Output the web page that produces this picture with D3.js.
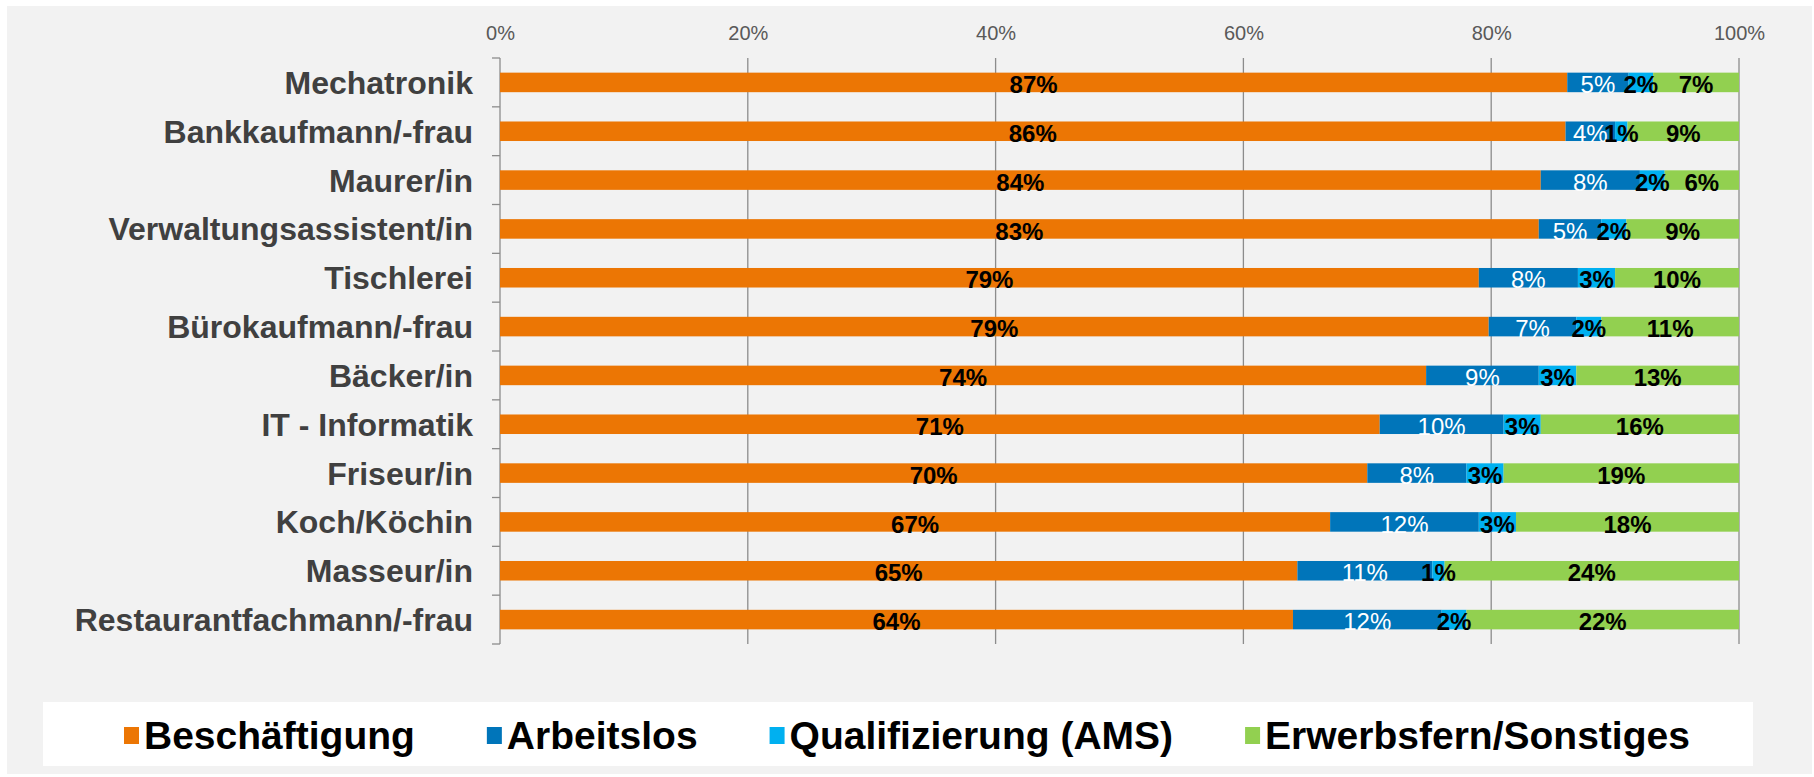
<!DOCTYPE html>
<html>
<head>
<meta charset="utf-8">
<script src="https://cdn.jsdelivr.net/npm/d3@7"></script>
<style>
  html, body { margin: 0; padding: 0; background: #ffffff; }
  svg { display: block; font-family: "Liberation Sans", Arial, sans-serif; }
</style>
</head>
<body>
<svg id="chart" width="1814" height="777"></svg>
<script>
const categories = ["Mechatronik", "Bankkaufmann/-frau", "Maurer/in", "Verwaltungsassistent/in",
  "Tischlerei", "Bürokaufmann/-frau", "Bäcker/in", "IT - Informatik", "Friseur/in",
  "Koch/Köchin", "Masseur/in", "Restaurantfachmann/-frau"];
const seriesNames = ["Beschäftigung", "Arbeitslos", "Qualifizierung (AMS)", "Erwerbsfern/Sonstiges"];
const beschaeftigung = [87, 86, 84, 83, 79, 79, 74, 71, 70, 67, 65, 64];
const arbeitslos     = [5, 4, 8, 5, 8, 7, 9, 10, 8, 12, 11, 12];
const qualifizierung = [2, 1, 2, 2, 3, 2, 3, 3, 3, 3, 1, 2];
const erwerbsfern    = [7, 9, 6, 9, 10, 11, 13, 16, 19, 18, 24, 22];
const tickValues = [0, 0.2, 0.4, 0.6, 0.8, 1.0];

const colors = ["#EC7604", "#0075BA", "#00B0F0", "#92D050"];
const labelFill = ["#000000", "#ffffff", "#000000", "#000000"];
const labelWeight = ["bold", "normal", "bold", "bold"];

const rows = categories.map((c, i) => ({
  cat: c,
  [seriesNames[0]]: beschaeftigung[i],
  [seriesNames[1]]: arbeitslos[i],
  [seriesNames[2]]: qualifizierung[i],
  [seriesNames[3]]: erwerbsfern[i]
}));

const stack = d3.stack().keys(seriesNames).offset(d3.stackOffsetExpand);
const stacked = stack(rows);

const svg = d3.select("#chart");

// background panel
svg.append("rect").attr("x", 7).attr("y", 6).attr("width", 1805).attr("height", 768).attr("fill", "#f2f2f2");

const x = d3.scaleLinear().domain([0, 1]).range([500, 1739]);
const y = d3.scaleBand().domain(categories).range([58, 644]).paddingInner(0.6).paddingOuter(0.3);

// gridlines
svg.append("g").selectAll("line").data(tickValues.filter(v => v > 0)).join("line")
  .attr("x1", d => x(d)).attr("x2", d => x(d))
  .attr("y1", 58).attr("y2", 644)
  .attr("stroke", "#8c8c8c").attr("stroke-width", 1.3);

// top axis labels
const xAxis = d3.axisTop(x).tickValues(tickValues).tickFormat(d3.format(".0%")).tickSize(0).tickPadding(0);
const gx = svg.append("g").attr("transform", "translate(0,40)").call(xAxis);
gx.select(".domain").remove();
gx.selectAll("text").attr("font-size", 20).attr("fill", "#595959")
  .attr("font-family", "'Liberation Sans', Arial, sans-serif");

// y axis line and boundary ticks
const step = y.step();
const y0 = y.range()[0];
const boundaries = d3.range(categories.length + 1).map(i => y0 + i * step);
svg.append("line").attr("x1", x(0)).attr("x2", x(0)).attr("y1", 58).attr("y2", 644)
  .attr("stroke", "#8c8c8c").attr("stroke-width", 1.3);
svg.append("g").selectAll("line").data(boundaries).join("line")
  .attr("x1", x(0) - 8).attr("x2", x(0))
  .attr("y1", d => d).attr("y2", d => d)
  .attr("stroke", "#8c8c8c").attr("stroke-width", 1.3);

// category labels
const yAxis = d3.axisLeft(y).tickSize(0).tickPadding(0);
const gy = svg.append("g").attr("transform", `translate(${x(0) - 27},0)`).call(yAxis);
gy.select(".domain").remove();
gy.selectAll("text").attr("font-size", 32).attr("font-weight", "bold").attr("fill", "#404040")
  .attr("font-family", "'Liberation Sans', Arial, sans-serif").attr("dy", "0.36em");

// bars
const layers = svg.append("g").selectAll("g").data(stacked).join("g")
  .attr("fill", (d, i) => colors[i]);
layers.selectAll("rect").data(d => d).join("rect")
  .attr("x", d => x(d[0]))
  .attr("width", d => x(d[1]) - x(d[0]))
  .attr("y", d => y(d.data.cat))
  .attr("height", y.bandwidth());

// value labels
const lbl = svg.append("g").selectAll("g").data(stacked).join("g");
lbl.each(function(layer, li) {
  d3.select(this).selectAll("text").data(layer).join("text")
    .attr("x", d => (x(d[0]) + x(d[1])) / 2)
    .attr("y", d => y(d.data.cat) + y.bandwidth() / 2 + 2)
    .attr("dy", "0.36em")
    .attr("text-anchor", "middle")
    .attr("font-size", 24)
    .attr("font-weight", labelWeight[li])
    .attr("fill", labelFill[li])
    .text(d => d.data[layer.key] + "%");
});

// legend
svg.append("rect").attr("x", 43).attr("y", 702).attr("width", 1710).attr("height", 64).attr("fill", "#ffffff");
const legend = svg.append("g");
let lx = 124;
const ly = 735;
seriesNames.forEach((name, i) => {
  const g = legend.append("g");
  g.append("rect").attr("x", lx).attr("y", ly - 8).attr("width", 15).attr("height", 17).attr("fill", colors[i]);
  const t = g.append("text").attr("x", lx + 20).attr("y", ly).attr("dy", "0.36em")
    .attr("font-size", 39).attr("font-weight", "bold").attr("fill", "#000000").text(name);
  const w = t.node().getComputedTextLength();
  lx = lx + 20 + w + 72;
});
</script>
</body>
</html>
